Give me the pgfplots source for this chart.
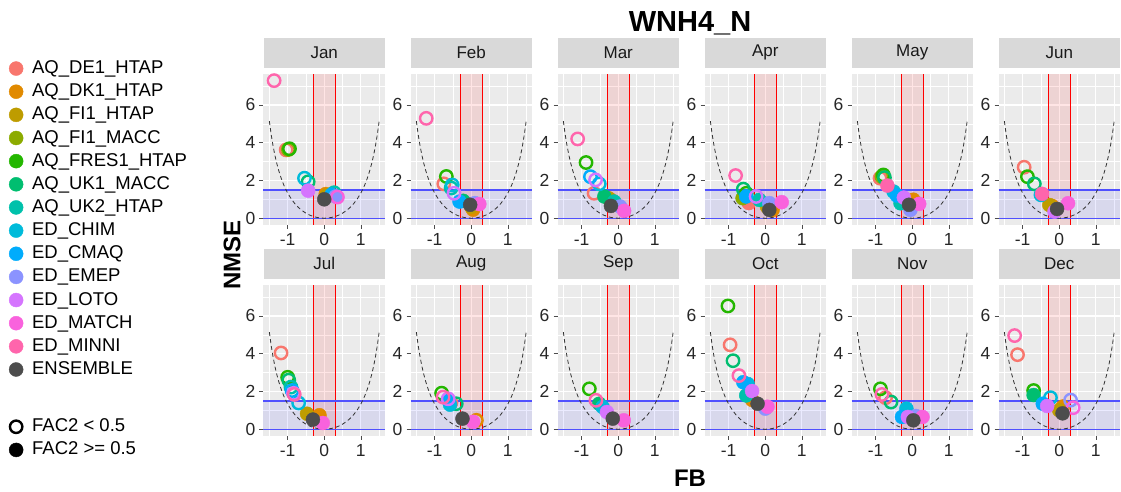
\documentclass[border=0pt]{standalone}
\usepackage{fontspec}
\setmainfont{Liberation Sans}
\usepackage{pgfplots}
\usepackage{pgfplotstable}
\pgfplotsset{compat=1.18}

\definecolor{cDE}{HTML}{F8766D}
\definecolor{cDK}{HTML}{E18A00}
\definecolor{cFIH}{HTML}{BE9C00}
\definecolor{cFIM}{HTML}{8CAB00}
\definecolor{cFR}{HTML}{24B700}
\definecolor{cUKA}{HTML}{00BE70}
\definecolor{cUKB}{HTML}{00C1AB}
\definecolor{cCH}{HTML}{00BBDA}
\definecolor{cCM}{HTML}{00ACFC}
\definecolor{cEM}{HTML}{8B93FF}
\definecolor{cLO}{HTML}{D575FE}
\definecolor{cMA}{HTML}{F962DD}
\definecolor{cMI}{HTML}{FF65AC}
\definecolor{cEN}{HTML}{4D4D4D}
\definecolor{ggbg}{HTML}{EBEBEB}
\definecolor{stripc}{HTML}{D9D9D9}
\definecolor{refblue}{RGB}{80,80,255}

\pgfplotstableread{
x y
-1.50 5.143
-1.45 4.432
-1.40 3.843
-1.35 3.348
-1.30 2.926
-1.25 2.564
-1.20 2.250
-1.15 1.976
-1.10 1.735
-1.05 1.522
-1.00 1.333
-0.90 1.016
-0.80 0.762
-0.70 0.558
-0.60 0.396
-0.50 0.267
-0.40 0.167
-0.30 0.092
-0.20 0.040
-0.10 0.010
0.00 0.000
0.10 0.010
0.20 0.040
0.30 0.092
0.40 0.167
0.50 0.267
0.60 0.396
0.70 0.558
0.80 0.762
0.90 1.016
1.00 1.333
1.05 1.522
1.10 1.735
1.15 1.976
1.20 2.250
1.25 2.564
1.30 2.926
1.35 3.348
1.40 3.843
1.45 4.432
1.50 5.143
}\reftab

\pgfplotstableread{
x y c
-1.04 3.62 DEo
0.04 1.28 DK
0.07 1.20 FIH
-0.98 3.64 FIMo
-0.95 3.68 FRo
-0.44 1.93 UKAo
0.27 1.35 UKBo
-0.54 2.12 CHo
0.20 1.25 CM
0.31 1.15 EM
-0.44 1.46 LO
0.36 1.12 MAo
-1.37 7.29 MIo
0.00 1.00 EN
}\tjan
\pgfplotstableread{
x y c
-0.75 1.82 DEo
0.05 0.45 DK
0.00 0.60 FIH
-0.68 2.21 FRo
-0.22 0.92 UKA
-0.55 1.60 UKBo
-0.52 1.76 CHo
-0.32 0.88 CM
0.10 0.80 EM
-0.47 1.32 LOo
0.22 0.75 MA
-1.23 5.29 MIo
-0.03 0.71 EN
}\tfeb
\pgfplotstableread{
x y c
-0.66 1.32 DEo
-0.22 1.00 DK
-0.27 1.06 FIH
-0.88 2.95 FRo
-0.38 1.15 UKA
-0.11 0.88 UKB
-0.52 1.82 CHo
-0.76 2.20 CMo
0.05 0.62 EM
-0.62 2.03 LOo
0.16 0.39 MA
-1.11 4.20 MIo
-0.20 0.65 EN
}\tmar
\pgfplotstableread{
x y c
-0.45 0.80 DE
0.20 0.44 DK
0.05 0.60 FIH
-0.62 1.06 FIM
-0.52 1.32 FRo
-0.60 1.54 UKAo
-0.16 0.97 UKB
-0.52 1.15 CM
0.11 0.80 EM
-0.25 1.15 LOo
0.45 0.85 MA
-0.81 2.26 MIo
0.11 0.44 EN
}\tapr
\pgfplotstableread{
x y c
-0.88 2.12 DEo
0.03 0.98 DK
-0.83 2.20 FIMo
-0.79 2.29 FRo
-0.76 2.15 UKAo
-0.32 0.79 UKB
-0.51 1.41 CH
-0.42 1.20 CM
-0.05 0.44 EM
-0.23 1.09 LO
0.19 0.76 MA
-0.68 1.73 MI
-0.09 0.71 EN
}\tmay
\pgfplotstableread{
x y c
-0.96 2.70 DEo
-0.20 0.65 DK
-0.27 0.70 FIH
-0.87 2.20 FRo
-0.68 1.82 UKAo
-0.50 1.24 CHo
-0.13 0.35 LO
0.24 0.79 MA
-0.47 1.29 MI
-0.06 0.49 EN
}\tjun
\pgfplotstableread{
x y c
-1.18 4.04 DEo
-0.13 0.74 DK
-0.47 0.82 FIH
-1.00 2.75 FRo
-0.97 2.60 UKAo
-0.91 2.23 UKBo
-0.88 2.05 CMo
-0.70 1.39 CHo
-0.84 1.90 LOo
-0.04 0.33 MA
-0.82 1.84 MIo
-0.31 0.51 EN
}\tjul
\pgfplotstableread{
x y c
-0.55 1.40 DE
0.14 0.47 DKo
-0.81 1.91 FRo
-0.41 1.35 UKAo
-0.58 1.30 CH
-0.63 1.56 CM
-0.63 1.61 LOo
0.05 0.39 MA
-0.77 1.70 MIo
-0.24 0.56 EN
}\taug
\pgfplotstableread{
x y c
-0.79 2.14 FRo
-0.52 1.35 UKA
-0.43 1.18 CH
-0.31 0.91 LO
0.15 0.47 MA
-0.61 1.53 MIo
-0.15 0.56 EN
}\tsep
\pgfplotstableread{
x y c
-0.96 4.47 DEo
-0.36 1.55 DK
-1.02 6.53 FRo
-0.88 3.63 UKAo
-0.52 1.79 UKB
-0.48 2.40 CH
-0.60 2.49 CM
0.00 1.09 EM
-0.36 2.02 LO
0.06 1.19 MA
-0.72 2.84 MIo
-0.21 1.35 EN
}\toct
\pgfplotstableread{
x y c
-0.73 1.67 DEo
-0.87 2.14 FRo
-0.58 1.44 UKAo
-0.16 1.09 CH
-0.28 0.65 CM
0.10 0.70 EM
-0.12 0.65 LO
0.28 0.65 MA
-0.83 1.84 MIo
0.03 0.47 EN
}\tnov
\pgfplotstableread{
x y c
-1.14 3.95 DEo
0.10 1.20 DK
0.00 1.00 FIH
-0.70 2.05 FRo
-0.70 1.81 UKA
-0.24 1.67 CHo
-0.45 1.35 CM
0.31 1.54 EMo
-0.33 1.23 LO
0.38 1.14 MAo
-1.22 4.96 MIo
0.09 0.84 EN
}\tdec

\pgfplotsset{
  ptclasses/.style={scatter/classes={
    DE={mark=*,draw=cDE,fill=cDE}, DEo={mark=o,draw=cDE,line width=2.4pt,mark size=6.2pt},
    DK={mark=*,draw=cDK,fill=cDK}, DKo={mark=o,draw=cDK,line width=2.4pt,mark size=6.2pt},
    FIH={mark=*,draw=cFIH,fill=cFIH}, FIHo={mark=o,draw=cFIH,line width=2.4pt,mark size=6.2pt},
    FIM={mark=*,draw=cFIM,fill=cFIM}, FIMo={mark=o,draw=cFIM,line width=2.4pt,mark size=6.2pt},
    FR={mark=*,draw=cFR,fill=cFR}, FRo={mark=o,draw=cFR,line width=2.4pt,mark size=6.2pt},
    UKA={mark=*,draw=cUKA,fill=cUKA}, UKAo={mark=o,draw=cUKA,line width=2.4pt,mark size=6.2pt},
    UKB={mark=*,draw=cUKB,fill=cUKB}, UKBo={mark=o,draw=cUKB,line width=2.4pt,mark size=6.2pt},
    CH={mark=*,draw=cCH,fill=cCH}, CHo={mark=o,draw=cCH,line width=2.4pt,mark size=6.2pt},
    CM={mark=*,draw=cCM,fill=cCM}, CMo={mark=o,draw=cCM,line width=2.4pt,mark size=6.2pt},
    EM={mark=*,draw=cEM,fill=cEM}, EMo={mark=o,draw=cEM,line width=2.4pt,mark size=6.2pt},
    LO={mark=*,draw=cLO,fill=cLO}, LOo={mark=o,draw=cLO,line width=2.4pt,mark size=6.2pt},
    MA={mark=*,draw=cMA,fill=cMA}, MAo={mark=o,draw=cMA,line width=2.4pt,mark size=6.2pt},
    MI={mark=*,draw=cMI,fill=cMI}, MIo={mark=o,draw=cMI,line width=2.4pt,mark size=6.2pt},
    EN={mark=*,draw=cEN,fill=cEN}, ENo={mark=o,draw=cEN,line width=2.4pt,mark size=6.2pt}}},
  pts/.style={scatter, only marks, scatter src=explicit symbolic, mark size=7pt, ptclasses, forget plot},
  panel/.style={
    scale only axis, width=121.5pt, height=151pt, anchor=south west,
    xmin=-1.66, xmax=1.66, ymin=-0.36, ymax=7.64,
    axis background/.style={fill=ggbg},
    axis line style={draw=none},
    xtick={-1,0,1}, xticklabels={-1,0,1},
    ytick={0,2,4,6}, yticklabels={0,2,4,6},
    minor xtick={-1.5,-0.5,0.5,1.5}, minor ytick={1,3,5,7},
    grid=both,
    major grid style={white, line width=1.1pt},
    minor grid style={white, line width=0.5pt},
    tick align=outside, major tick length=4pt, minor tick length=0pt,
    tick style={color=black!70, line width=0.6pt},
    xtick pos=left, ytick pos=left,
    ticklabel style={font=\fontsize{17.5}{17.5}\selectfont, text=black!85},
    xticklabel style={inner sep=0pt, yshift=-4pt},
    yticklabel style={inner sep=0pt, xshift=-4pt},
    title style={at={(0.5,1)}, anchor=south, fill=stripc, minimum width=121.5pt,
      minimum height=30pt, inner sep=0pt, text=black!90,
      font=\fontsize{17}{17}\selectfont},
    clip=false,
  },
  legendbase/.style={legend cell align=left,
    legend style={anchor=north west, draw=none, fill=none,
      font=\fontsize{18.5}{18.5}\selectfont, row sep=5.15pt, column sep=9pt, inner sep=0pt,
      nodes={inner sep=0pt, text height=14pt, text depth=4pt}}},
}

\newcommand{\refstuff}{%
  \fill[blue, opacity=0.08] (axis cs:-1.66,0) rectangle (axis cs:1.66,1.5);
  \fill[red, opacity=0.1] (axis cs:-0.3,-0.36) rectangle (axis cs:0.3,7.64);
  \draw[red, line width=1pt] (axis cs:-0.3,-0.36) -- (axis cs:-0.3,7.64);
  \draw[red, line width=1pt] (axis cs:0.3,-0.36) -- (axis cs:0.3,7.64);
  \draw[refblue, line width=1.4pt] (axis cs:-1.66,0) -- (axis cs:1.66,0);
  \draw[refblue, line width=1.4pt] (axis cs:-1.66,1.5) -- (axis cs:1.66,1.5);
  \addplot[black!80, dash pattern=on 4pt off 3pt, line width=0.8pt, forget plot] table {\reftab};
}
\newcommand{\panel}[4]{%
  \begin{axis}[panel, at={(#1pt,#2pt)}, title={#3}]
    \refstuff
    \addplot[pts] table[meta=c] {#4};
  \end{axis}}

\begin{document}
\begin{tikzpicture}
\path[use as bounding box] (0,0) rectangle (1121pt,492pt);

\begin{axis}[panel, at={(263.5pt,267pt)}, title={Jan}, legendbase,
  legend style={at={(-2.095,1.097)}}]
  \addlegendimage{only marks, mark=*, mark size=7pt, color=cDE}\addlegendentry{AQ\_DE1\_HTAP}
  \addlegendimage{only marks, mark=*, mark size=7pt, color=cDK}\addlegendentry{AQ\_DK1\_HTAP}
  \addlegendimage{only marks, mark=*, mark size=7pt, color=cFIH}\addlegendentry{AQ\_FI1\_HTAP}
  \addlegendimage{only marks, mark=*, mark size=7pt, color=cFIM}\addlegendentry{AQ\_FI1\_MACC}
  \addlegendimage{only marks, mark=*, mark size=7pt, color=cFR}\addlegendentry{AQ\_FRES1\_HTAP}
  \addlegendimage{only marks, mark=*, mark size=7pt, color=cUKA}\addlegendentry{AQ\_UK1\_MACC}
  \addlegendimage{only marks, mark=*, mark size=7pt, color=cUKB}\addlegendentry{AQ\_UK2\_HTAP}
  \addlegendimage{only marks, mark=*, mark size=7pt, color=cCH}\addlegendentry{ED\_CHIM}
  \addlegendimage{only marks, mark=*, mark size=7pt, color=cCM}\addlegendentry{ED\_CMAQ}
  \addlegendimage{only marks, mark=*, mark size=7pt, color=cEM}\addlegendentry{ED\_EMEP}
  \addlegendimage{only marks, mark=*, mark size=7pt, color=cLO}\addlegendentry{ED\_LOTO}
  \addlegendimage{only marks, mark=*, mark size=7pt, color=cMA}\addlegendentry{ED\_MATCH}
  \addlegendimage{only marks, mark=*, mark size=7pt, color=cMI}\addlegendentry{ED\_MINNI}
  \addlegendimage{only marks, mark=*, mark size=7pt, color=cEN}\addlegendentry{ENSEMBLE}
  \refstuff
  \addplot[pts] table[meta=c] {\tjan};
\end{axis}
\panel{410.5}{267}{Feb}{\tfeb}
\panel{557.5}{267}{Mar}{\tmar}
\panel{704.5}{267}{Apr}{\tapr}
\panel{851.5}{267}{May}{\tmay}
\panel{998.5}{267}{Jun}{\tjun}

\begin{axis}[panel, at={(263.5pt,56pt)}, title={Jul}, legendbase,
  legend style={at={(-2.095,0.122)}}]
  \addlegendimage{only marks, mark=o, mark size=6.2pt, line width=2.4pt, color=black}\addlegendentry{FAC2 < 0.5}
  \addlegendimage{only marks, mark=*, mark size=7pt, color=black}\addlegendentry{FAC2 >= 0.5}
  \refstuff
  \addplot[pts] table[meta=c] {\tjul};
\end{axis}
\panel{410.5}{56}{Aug}{\taug}
\panel{557.5}{56}{Sep}{\tsep}
\panel{704.5}{56}{Oct}{\toct}
\panel{851.5}{56}{Nov}{\tnov}
\panel{998.5}{56}{Dec}{\tdec}

\node[font=\bfseries\fontsize{29}{29}\selectfont, anchor=base] at (690pt,460pt) {WNH4\_N};
\node[font=\bfseries\fontsize{24}{24}\selectfont, rotate=90] at (232pt,237pt) {NMSE};
\node[font=\bfseries\fontsize{24}{24}\selectfont] at (690pt,14pt) {FB};
\end{tikzpicture}
\end{document}
